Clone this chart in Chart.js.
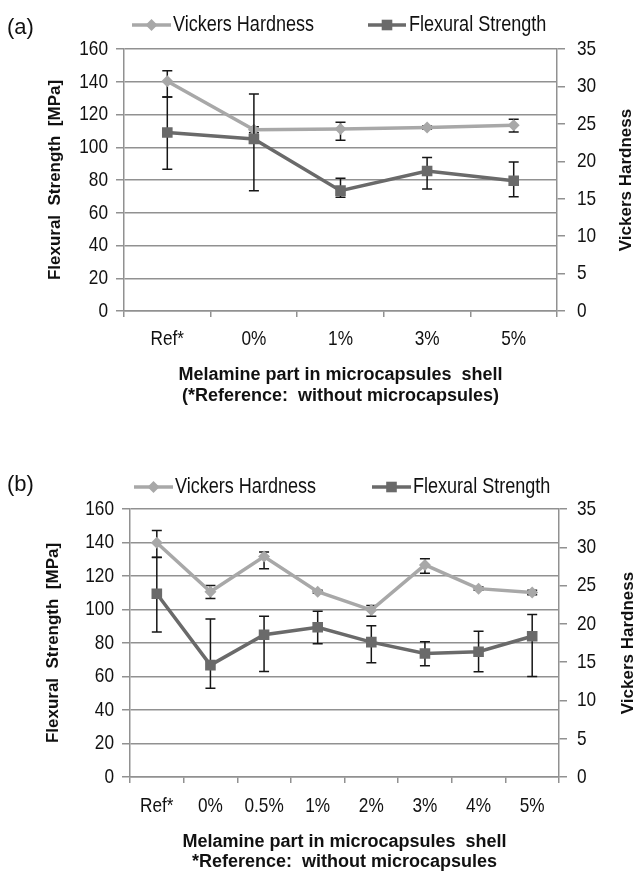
<!DOCTYPE html>
<html>
<head>
<meta charset="utf-8">
<script src="https://cdn.jsdelivr.net/npm/chart.js@4.4.1/dist/chart.umd.min.js"></script>
<style>
  html, body { margin: 0; padding: 0; background: #fff; }
  #wrapA { position: absolute; left: 0; top: 0; width: 637px; height: 420px; }
  #wrapB { position: absolute; left: 0; top: 440px; width: 637px; height: 432px; }
</style>
</head>
<body>
<div id="wrapA"><canvas id="chartA"></canvas></div>
<div id="wrapB"><canvas id="chartB"></canvas></div>
<script>
// --- data, panel (a) ---
const labelsA = ['Ref*', '0%', '1%', '3%', '5%'];
const flexA = [109, 105, 73.5, 85.5, 79.5];
const flexLowA = [86.5, 73.5, 69.5, 74.5, 69.7];
const flexHighA = [130.7, 132.5, 81, 93.8, 91];
const vickA = [30.7, 24.2, 24.3, 24.5, 24.8];
const vickLowA = [28.6, 23.8, 22.8, 24.3, 23.9];
const vickHighA = [32.1, 24.6, 25.2, 24.7, 25.6];

// --- data, panel (b) ---
const labelsB = ['Ref*', '0%', '0.5%', '1%', '2%', '3%', '4%', '5%'];
const flexB = [109.4, 66.8, 84.9, 89.4, 80.5, 73.7, 74.8, 84];
const flexLowB = [86.6, 53, 63, 79.5, 68.2, 66.4, 62.8, 60];
const flexHighB = [131, 94.4, 96, 99, 90.3, 80.7, 87, 97];
const vickB = [30.6, 24.2, 28.8, 24.2, 21.8, 27.7, 24.6, 24.1];
const vickLowB = [28.7, 23.3, 27.2, 24.0, 21.0, 26.6, 24.4, 23.8];
const vickHighB = [32.2, 25.0, 29.4, 24.4, 22.4, 28.5, 24.8, 24.4];

// axis ranges
const flexMax = 160, flexStep = 20;
const vickMax = 35, vickStep = 5;

const VH_COLOR = '#a8a8a8';
const FS_COLOR = '#6a6a6a';
const GRID = '#919191';
const TXT = '#111111';
// "Narrow" in the family name marks text that gets squeezed (no narrow face installed)
const NARROW = "'Arial Narrow', 'Liberation Sans', Arial, sans-serif";
const PLAIN = "'Liberation Sans', Arial, sans-serif";

Chart.defaults.font.family = NARROW;
Chart.defaults.color = TXT;

function narrowText(canvas) {
  const ctx = canvas.getContext('2d');
  const base = ctx.fillText;
  ctx.fillText = function (text, x, y, maxWidth) {
    if (this.font.indexOf('Narrow') < 0) return base.call(this, text, x, y, maxWidth);
    this.save();
    this.translate(x, y);
    this.scale(0.82, 1);
    base.call(this, text, 0, 0);
    this.restore();
  };
  return canvas;
}

// error bars, drawn under each series' markers
const errorBars = {
  id: 'errorBars',
  beforeDatasetDraw(chart, args) {
    const ds = chart.data.datasets[args.index];
    if (!ds.errLow) return;
    const yScale = chart.scales[ds.yAxisID];
    const ctx = chart.ctx;
    ctx.save();
    ctx.strokeStyle = '#161616';
    ctx.lineWidth = 1.5;
    args.meta.data.forEach((pt, j) => {
      const x = pt.x;
      const lo = yScale.getPixelForValue(ds.errLow[j]);
      const hi = yScale.getPixelForValue(ds.errHigh[j]);
      ctx.beginPath();
      ctx.moveTo(x, lo); ctx.lineTo(x, hi);
      ctx.moveTo(x - 5, lo); ctx.lineTo(x + 5, lo);
      ctx.moveTo(x - 5, hi); ctx.lineTo(x + 5, hi);
      ctx.stroke();
    });
    ctx.restore();
  }
};

function drawMarker(ctx, style, x, y, r) {
  ctx.beginPath();
  if (style === 'rectRot') {
    ctx.moveTo(x, y - r); ctx.lineTo(x + r, y); ctx.lineTo(x, y + r); ctx.lineTo(x - r, y);
  } else {
    const s = r * Math.SQRT1_2;
    ctx.rect(x - s, y - s, 2 * s, 2 * s);
  }
  ctx.closePath();
  ctx.fill();
}

// panel tag, legend and right axis title
const decor = {
  id: 'decor',
  afterDraw(chart, args, opts) {
    const ctx = chart.ctx;
    ctx.save();
    ctx.fillStyle = TXT;
    ctx.font = '22px ' + PLAIN;
    ctx.textBaseline = 'middle';
    ctx.textAlign = 'left';
    ctx.fillText(opts.tag, opts.tagX, opts.tagY);

    chart.data.datasets.forEach((ds, i) => {
      const it = opts.items[i];
      ctx.strokeStyle = ds.borderColor;
      ctx.lineWidth = 3.5;
      ctx.beginPath();
      ctx.moveTo(it.x0, opts.legendY);
      ctx.lineTo(it.x1, opts.legendY);
      ctx.stroke();
      ctx.fillStyle = ds.borderColor;
      drawMarker(ctx, ds.pointStyle, (it.x0 + it.x1) / 2, opts.legendY, ds.pointRadius);
      ctx.fillStyle = TXT;
      ctx.font = '22px ' + NARROW;
      ctx.fillText(ds.label, it.tx, opts.legendY);
    });

    const ca = chart.chartArea;
    ctx.translate(opts.rightTitleX, (ca.top + ca.bottom) / 2);
    ctx.rotate(-Math.PI / 2);
    ctx.textAlign = 'center';
    ctx.font = 'bold 17px ' + PLAIN;
    ctx.fillText('Vickers Hardness', 0, 0);
    ctx.restore();
  }
};

function makeChart(id, labels, flex, flexLow, flexHigh, vick, vickLow, vickHigh, lay) {
  return new Chart(narrowText(document.getElementById(id)), {
    type: 'line',
    data: {
      labels: labels,
      datasets: [{
        label: 'Vickers Hardness',
        data: vick,
        errLow: vickLow,
        errHigh: vickHigh,
        yAxisID: 'y1',
        borderColor: VH_COLOR,
        backgroundColor: VH_COLOR,
        borderWidth: 3.5,
        pointStyle: 'rectRot',
        pointRadius: 6,
        pointBorderWidth: 0,
        pointBackgroundColor: VH_COLOR,
        tension: 0,
        order: 2
      }, {
        label: 'Flexural Strength',
        data: flex,
        errLow: flexLow,
        errHigh: flexHigh,
        yAxisID: 'y',
        borderColor: FS_COLOR,
        backgroundColor: FS_COLOR,
        borderWidth: 3.5,
        pointStyle: 'rect',
        pointRadius: 7.5,
        pointBorderWidth: 0,
        pointBackgroundColor: FS_COLOR,
        tension: 0,
        order: 1
      }]
    },
    options: {
      responsive: true,
      maintainAspectRatio: false,
      animation: false,
      layout: { padding: { top: lay.padTop, left: 0, right: 0, bottom: 0 } },
      scales: {
        x: {
          offset: true,
          grid: { display: true, drawOnChartArea: false, drawTicks: true, tickLength: 6, color: GRID, lineWidth: 1.5, offset: true },
          border: { display: true, color: GRID, width: 1.5 },
          ticks: { color: TXT, font: { size: 21 }, padding: lay.xTickPad, maxRotation: 0, autoSkip: false },
          title: {
            display: true, text: lay.xTitle, color: TXT,
            font: { size: 18, weight: 'bold', family: PLAIN, lineHeight: lay.xTitleLH },
            padding: { top: 0, bottom: lay.xTitlePad }
          },
          afterFit(s) { s.height = lay.xHeight; }
        },
        y: {
          position: 'left', min: 0, max: flexMax,
          ticks: { stepSize: flexStep, color: TXT, font: { size: 21 }, padding: 8 },
          grid: { color: GRID, lineWidth: 1.5, tickLength: 8, drawTicks: true },
          border: { color: GRID, width: 1.5 },
          title: {
            display: true, text: 'Flexural  Strength  [MPa]', color: TXT,
            font: { size: 17, weight: 'bold', family: PLAIN },
            padding: { top: lay.leftTitlePad, bottom: 0 }
          },
          afterFit(s) { s.width = lay.leftW; }
        },
        y1: {
          position: 'right', min: 0, max: vickMax,
          ticks: { stepSize: vickStep, color: TXT, font: { size: 21 }, padding: lay.rightTickPad },
          grid: { drawOnChartArea: false, color: GRID, lineWidth: 1.5, tickLength: 8 },
          border: { color: GRID, width: 1.5 },
          afterFit(s) { s.width = lay.rightW; }
        }
      },
      plugins: {
        legend: { display: false },
        tooltip: { enabled: false },
        decor: lay.decor
      }
    },
    plugins: [errorBars, decor]
  });
}

makeChart('chartA', labelsA, flexA, flexLowA, flexHighA, vickA, vickLowA, vickHighA, {
  padTop: 49, xHeight: 109, xTickPad: 10, xTitlePad: 13, xTitleLH: 21 / 18,
  xTitle: ['Melamine part in microcapsules  shell', '(*Reference:  without microcapsules)'],
  leftW: 124, rightW: 80, leftTitlePad: 45, rightTickPad: 12,
  decor: {
    tag: '(a)', tagX: 7, tagY: 28, legendY: 25, rightTitleX: 626,
    items: [{ x0: 132, x1: 171, tx: 173 }, { x0: 368, x1: 406, tx: 409 }]
  }
});

makeChart('chartB', labelsB, flexB, flexLowB, flexHighB, vickB, vickLowB, vickHighB, {
  padTop: 69, xHeight: 95, xTickPad: 11, xTitlePad: 0, xTitleLH: 20 / 18,
  xTitle: ['Melamine part in microcapsules  shell', '*Reference:  without microcapsules'],
  leftW: 130, rightW: 78, leftTitlePad: 43, rightTickPad: 10,
  decor: {
    tag: '(b)', tagX: 7, tagY: 45, legendY: 47, rightTitleX: 628,
    items: [{ x0: 134, x1: 173, tx: 175 }, { x0: 372, x1: 411, tx: 413 }]
  }
});
</script>
</body>
</html>
